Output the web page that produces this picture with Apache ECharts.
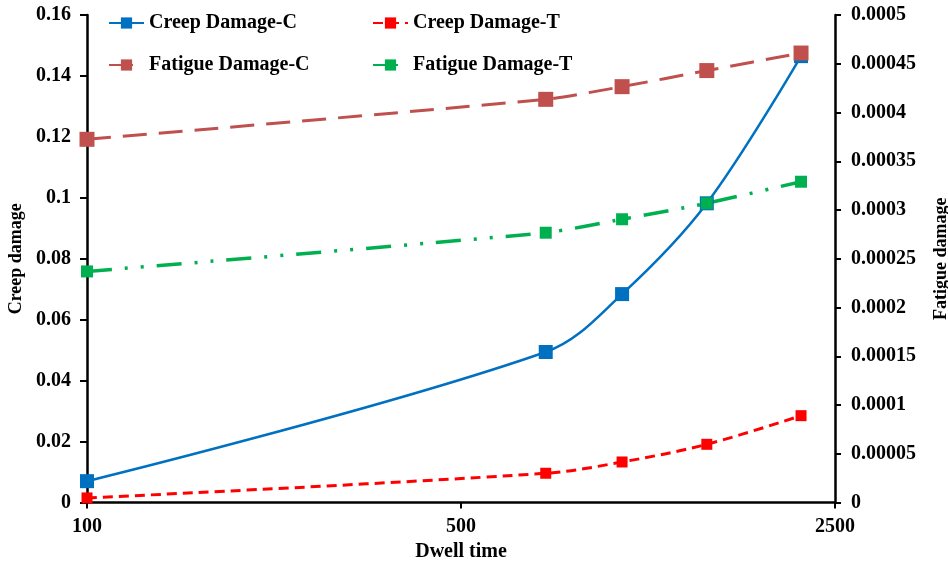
<!DOCTYPE html>
<html>
<head>
<meta charset="utf-8">
<title>Creep and fatigue damage vs dwell time</title>
<script src="https://cdn.jsdelivr.net/npm/echarts@6/dist/echarts.min.js"></script>
<style>
    html, body { margin: 0; padding: 0; background: #fff; }
    .chart { width: 948px; height: 563px; }
</style>
</head>
<body>
<div class="chart"></div>
<script>
// 数据
var dwellTimes = [100, 720, 1000, 1440, 2160];
var creepC = [0.007, 0.0494, 0.0684, 0.0982, 0.1465];
var creepT = [0.0015, 0.0096, 0.0133, 0.0191, 0.0285];
var fatigueC = [0.0003725, 0.0004135, 0.0004265, 0.000443, 0.000461];
var fatigueT = [0.000237, 0.0002767, 0.0002905, 0.0003069, 0.000329];
var xTicks = [100, 500, 2500];

(function () {
    var myChart = echarts.init(document.querySelector(".chart"));
    var font = "'Liberation Serif', 'Times New Roman', serif";

    function pairs(ys) {
        return dwellTimes.map(function (t, i) { return [t, ys[i]]; });
    }
    function legendAt(name, left, top) {
        return {
            data: [name],
            left: left,
            top: top,
            padding: 0,
            itemWidth: 35,
            itemHeight: 14,
            itemGap: 0,
            textStyle: { color: '#000', fontSize: 20, fontWeight: 'bold', fontFamily: font }
        };
    }
    var axisText = { color: '#000', fontSize: 20, fontWeight: 'bold', fontFamily: font };

    var option = {
        animation: false,
        backgroundColor: '#fff',
        legend: [
            legendAt('Creep Damage-C', 108, 13),
            legendAt('Creep Damage-T', 372, 13),
            legendAt('Fatigue Damage-C', 108, 55),
            legendAt('Fatigue Damage-T', 372, 55)
        ],
        grid: {
            left: 87,
            right: 113,
            top: 15,
            bottom: 60.5,
            containLabel: false,
            outerBoundsMode: 'none'
        },
        xAxis: {
            type: 'log',
            logBase: 10,
            min: 100,
            max: 2500,
            name: 'Dwell time',
            nameLocation: 'middle',
            nameGap: 36,
            nameTextStyle: axisText,
            axisLine: { show: true, onZero: false, lineStyle: { color: '#000', width: 2.5 } },
            axisTick: { show: true, length: 6, customValues: xTicks, lineStyle: { color: '#000', width: 2 } },
            minorTick: { show: false },
            axisLabel: {
                customValues: xTicks,
                margin: 14,
                color: '#000', fontSize: 20, fontWeight: 'bold', fontFamily: font,
                formatter: function (v) { return String(Math.round(v)); }
            },
            splitLine: { show: false }
        },
        yAxis: [{
            type: 'value',
            position: 'left',
            min: 0,
            max: 0.16,
            interval: 0.02,
            name: 'Creep damage',
            nameLocation: 'middle',
            nameRotate: 90,
            nameGap: 60,
            nameTextStyle: { color: '#000', fontSize: 18, fontWeight: 'bold', fontFamily: font },
            axisLine: { show: true, onZero: false, lineStyle: { color: '#000', width: 2.5 } },
            axisTick: { show: true, length: 7, lineStyle: { color: '#000', width: 2 } },
            axisLabel: {
                margin: 16,
                color: '#000', fontSize: 20, fontWeight: 'bold', fontFamily: font,
                formatter: function (v) { return String(+v.toFixed(2)); }
            },
            splitLine: { show: false }
        }, {
            type: 'value',
            position: 'right',
            min: 0,
            max: 0.0005,
            interval: 0.00005,
            name: 'Fatigue damage',
            nameLocation: 'middle',
            nameRotate: 90,
            nameGap: 97,
            nameTextStyle: { color: '#000', fontSize: 18, fontWeight: 'bold', fontFamily: font },
            axisLine: { show: true, onZero: false, lineStyle: { color: '#000', width: 2.5 } },
            axisTick: { show: true, length: 6, lineStyle: { color: '#000', width: 2 } },
            axisLabel: {
                margin: 16,
                color: '#000', fontSize: 20, fontWeight: 'bold', fontFamily: font,
                formatter: function (v) { return String(+v.toFixed(5)); }
            },
            splitLine: { show: false }
        }],
        series: [
            {
                name: 'Creep Damage-C',
                type: 'line',
                yAxisIndex: 0,
                smooth: 0.35,
                symbol: 'rect',
                symbolSize: 14,
                color: '#0070C0',
                lineStyle: { color: '#0070C0', width: 2.5 },
                data: pairs(creepC)
            },
            {
                name: 'Creep Damage-T',
                type: 'line',
                yAxisIndex: 0,
                smooth: 0.35,
                symbol: 'rect',
                symbolSize: 11,
                color: '#FF0000',
                lineStyle: { color: '#FF0000', width: 3, type: [10, 6] },
                data: pairs(creepT)
            },
            {
                name: 'Fatigue Damage-C',
                type: 'line',
                yAxisIndex: 1,
                smooth: 0.2,
                symbol: 'rect',
                symbolSize: 15,
                color: '#C0504D',
                lineStyle: { color: '#C0504D', width: 3, type: [24, 12] },
                data: pairs(fatigueC)
            },
            {
                name: 'Fatigue Damage-T',
                type: 'line',
                yAxisIndex: 1,
                smooth: 0.2,
                symbol: 'rect',
                symbolSize: 12,
                color: '#00B050',
                lineStyle: { color: '#00B050', width: 3.5, type: [25, 13, 3, 13, 3, 13] },
                data: pairs(fatigueT)
            }
        ]
    };
    myChart.setOption(option);
    window.addEventListener("resize", function () {
        myChart.resize();
    });
})();
</script>
</body>
</html>
